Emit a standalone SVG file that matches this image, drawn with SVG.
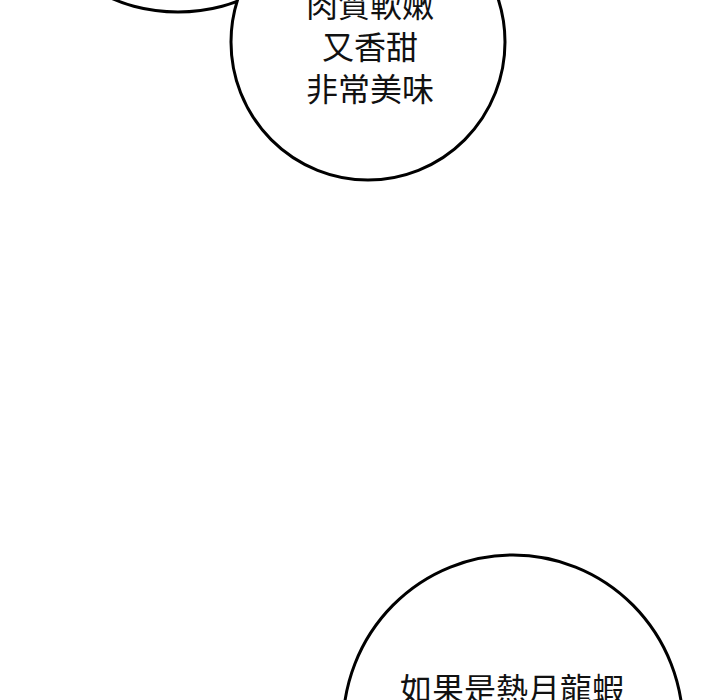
<svg xmlns="http://www.w3.org/2000/svg" width="720" height="700" viewBox="0 0 720 700">
<style>
.b{fill:#fff;stroke:#000;stroke-width:3}
.t{font-family:"Noto Sans CJK TC","Noto Sans CJK SC",sans-serif;font-size:32px;fill:#111;text-anchor:middle}
</style>
<rect width="720" height="700" fill="#fff"/>
<g id="bubble-left"><ellipse class="b" cx="178" cy="-70" rx="120" ry="82"/></g>
<g id="bubble-top">
<ellipse class="b" cx="368" cy="42" rx="137" ry="138"/>
<text class="t" x="370" y="17">肉質軟嫩</text>
<text class="t" x="370" y="59">又香甜</text>
<text class="t" x="370" y="101">非常美味</text>
</g>
<g id="bubble-bottom">
<ellipse class="b" cx="513" cy="727" rx="170" ry="172"/>
<text class="t" x="512" y="701">如果是熱月龍蝦</text>
</g>
</svg>
